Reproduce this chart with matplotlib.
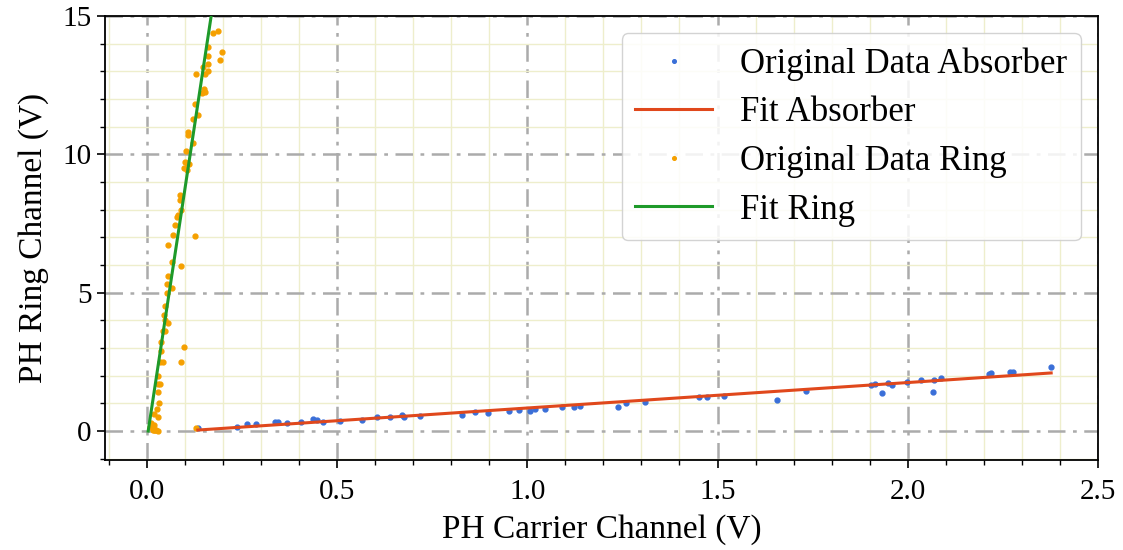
import matplotlib
matplotlib.use("Agg")
import matplotlib.pyplot as plt
import numpy as np
from matplotlib.ticker import MultipleLocator, FormatStrFormatter

plt.rcParams["font.family"] = ["Liberation Serif", "DejaVu Serif"]

# absorber: carrier channel vs ring channel
absorber_x = [0.134, 0.236, 0.262, 0.287, 0.337, 0.345, 0.368, 0.404, 0.438, 0.448,
              0.464, 0.508, 0.565, 0.604, 0.640, 0.670, 0.675, 0.718, 0.828, 0.863,
              0.898, 0.951, 0.977, 1.008, 1.020, 1.047, 1.091, 1.122, 1.139, 1.238,
              1.260, 1.309, 1.451, 1.473, 1.517, 1.657, 1.732, 1.903, 1.915, 1.932,
              1.948, 1.959, 1.997, 2.034, 2.067, 2.069, 2.087, 2.214, 2.220, 2.269,
              2.278, 2.377]
absorber_y = [0.10, 0.16, 0.24, 0.24, 0.31, 0.33, 0.30, 0.32, 0.43, 0.39,
              0.32, 0.35, 0.40, 0.52, 0.52, 0.57, 0.51, 0.54, 0.59, 0.67,
              0.64, 0.72, 0.76, 0.72, 0.78, 0.80, 0.86, 0.88, 0.90, 0.86,
              1.00, 1.06, 1.24, 1.22, 1.28, 1.11, 1.44, 1.66, 1.68, 1.36,
              1.74, 1.67, 1.78, 1.83, 1.41, 1.83, 1.91, 2.06, 2.08, 2.12,
              2.12, 2.31]

ring_x = [0.175, 0.188, 0.197, 0.192, 0.161, 0.162, 0.160, 0.160, 0.148, 0.129,
          0.153, 0.150, 0.153, 0.146, 0.126, 0.135, 0.122, 0.109, 0.108, 0.122,
          0.103, 0.100, 0.105, 0.112, 0.098, 0.106, 0.087, 0.087, 0.083, 0.091,
          0.078, 0.074, 0.126, 0.069, 0.056, 0.065, 0.091, 0.055, 0.053, 0.052,
          0.065, 0.047, 0.045, 0.047, 0.055, 0.042, 0.048, 0.036, 0.037, 0.035,
          0.042, 0.098, 0.089, 0.030, 0.028, 0.029, 0.035, 0.032, 0.026, 0.028,
          0.015, 0.020, 0.025, 0.130, 0.012, 0.018, 0.008, 0.022, 0.030, 0.020]
ring_y = [14.39, 14.45, 13.69, 13.39, 13.87, 13.55, 13.25, 13.00, 13.15, 12.91,
          12.91, 12.35, 12.25, 12.20, 11.83, 11.41, 11.29, 10.80, 10.70, 10.39,
          10.12, 9.72, 9.68, 9.65, 9.50, 9.45, 8.52, 8.34, 7.80, 7.98,
          7.74, 7.44, 7.04, 7.08, 6.71, 6.11, 5.97, 5.60, 5.30, 5.00,
          5.15, 4.50, 4.20, 4.00, 3.90, 3.60, 3.60, 3.20, 2.90, 2.50,
          2.50, 3.02, 2.50, 2.00, 1.70, 1.40, 1.70, 1.00, 0.80, 0.50,
          0.05, 0.05, 0.05, 0.10, 0.30, 0.20, 0.15, 0.02, 0.00, 0.60]

# fit coefficients (slope, intercept)
absorber_fit = [0.92, -0.09]
ring_fit = [90.6, -0.32]
absorber_fit_range = [0.134, 2.377]
ring_fit_range = [0.0035, 0.197]

ax_fit = np.linspace(*absorber_fit_range, 100)
rx_fit = np.linspace(*ring_fit_range, 100)

fig = plt.figure(figsize=(11.23, 5.5), dpi=100)
ax = fig.add_axes([0.0935, 0.1636, 0.8842, 0.8074])

ax.plot(absorber_x, absorber_y, ".", color="#3a6fd8", markersize=7,
        label="Original Data Absorber", zorder=3)
ax.plot(ax_fit, np.polyval(absorber_fit, ax_fit), "-", color="#e0481c", lw=2.2,
        label="Fit Absorber", zorder=4)
ax.plot(ring_x, ring_y, ".", color="#f5a000", markersize=7,
        label="Original Data Ring", zorder=3)
ax.plot(rx_fit, np.polyval(ring_fit, rx_fit), "-", color="#1e9a2a", lw=2.2,
        label="Fit Ring", zorder=4)

ax.set_xlim(-0.11, 2.5)
ax.set_ylim(-1.05, 15)
ax.xaxis.set_major_locator(MultipleLocator(0.5))
ax.xaxis.set_minor_locator(MultipleLocator(0.1))
ax.yaxis.set_major_locator(MultipleLocator(5))
ax.yaxis.set_minor_locator(MultipleLocator(1))
ax.xaxis.set_major_formatter(FormatStrFormatter("%.1f"))

ax.grid(which="major", color="#ababab", linestyle=(0, (7, 3, 1.5, 3)),
        linewidth=1.8, zorder=1)
ax.grid(which="minor", color="#eeeecc", linestyle="-", linewidth=1.0, zorder=0)
ax.set_axisbelow(True)

ax.tick_params(which="major", labelsize=21, length=6, width=1.2)
ax.tick_params(axis="x", which="major", pad=8)
ax.tick_params(which="minor", length=3.5, width=1.0)
for s in ax.spines.values():
    s.set_linewidth(1.3)

ax.set_xlabel("PH Carrier Channel (V)", fontsize=24, labelpad=6)
ax.set_ylabel("PH Ring Channel (V)", fontsize=24, labelpad=10)

ax.legend(loc="upper right", fontsize=25, markerscale=0.75, framealpha=0.85,
          handlelength=2.2, labelspacing=0.45)

fig.savefig("out.png", dpi=100)
